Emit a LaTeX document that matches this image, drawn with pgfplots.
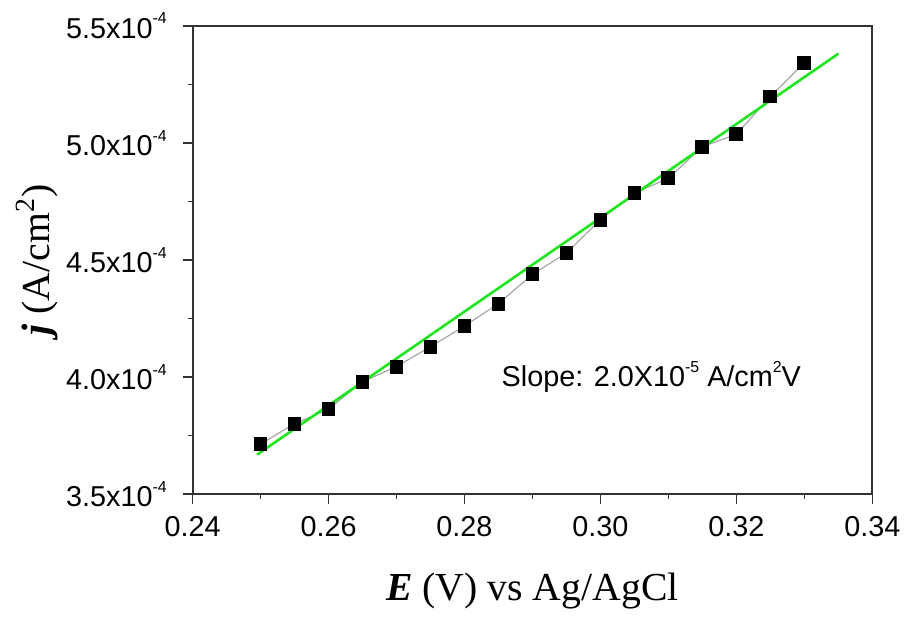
\documentclass[border=0pt]{standalone}
\usepackage{pgfplots}
\pgfplotsset{compat=1.18}
\usepackage{fontspec}
\setmainfont{Liberation Sans}
\newfontfamily\timesfont{Liberation Serif}
\definecolor{fitgreen}{RGB}{30,230,30}
\newcommand{\smallsup}[1]{\raisebox{0.5em}{\fontsize{8}{8}\selectfont #1}}
\begin{document}
\fontsize{14.5}{17}\selectfont
\begin{tikzpicture}
\begin{axis}[
  scale only axis,
  width=342.5pt, height=236pt,
  xmin=0.24, xmax=0.34, ymin=3.5, ymax=5.5,
  xtick={0.24,0.26,0.28,0.30,0.32,0.34},
  ytick={3.5,4.0,4.5,5.0,5.5},
  minor x tick num=1, minor y tick num=1,
  xtick pos=left, ytick pos=left,
  tick align=outside,
  major tick length=5pt, minor tick length=2.5pt,
  axis line style={black!80, line width=1pt},
  every tick/.style={black!80, line width=0.8pt},
  /pgf/number format/assume math mode=true,
  xticklabel style={yshift=-1pt, /pgf/number format/fixed, /pgf/number format/fixed zerofill, /pgf/number format/precision=2},
  yticklabel={\pgfmathprintnumber[fixed,fixed zerofill,precision=1,assume math mode=true]{\tick}x10\smallsup{-4}},
  yticklabel style={xshift=-3pt},
  clip=false,
]
\addplot[gray!70, line width=0.6pt, mark=square*, mark size=3.2pt, mark options={black, fill=black}] coordinates {
(0.250,3.714) (0.255,3.801) (0.260,3.863) (0.265,3.980) (0.270,4.045)
(0.275,4.130) (0.280,4.218) (0.285,4.314) (0.290,4.439) (0.295,4.530)
(0.300,4.672) (0.305,4.786) (0.310,4.849) (0.315,4.984) (0.320,5.037)
(0.325,5.198) (0.330,5.343)
};
\addplot[fitgreen, line width=1.3pt] coordinates {(0.2495,3.669) (0.335,5.381)};
\node[anchor=west] at (axis cs:0.284,4.0) {Slope: 2.0X10\smallsup{-5} A/cm\smallsup{2}V};
\end{axis}
\node[anchor=center] at ([yshift=-48.5pt]current axis.south) {\fontsize{20}{24}\selectfont\timesfont{\bfseries\itshape E} (V) vs Ag/AgCl};
\node[anchor=center, rotate=90] at ([xshift=-78.5pt]current axis.west) {\fontsize{20}{24}\selectfont\timesfont{\bfseries\itshape j} (A/cm\textsuperscript{2})};
\useasboundingbox ([xshift=-97pt,yshift=-61.5pt]current axis.south west) rectangle ([xshift=15.5pt,yshift=13pt]current axis.north east);
\end{tikzpicture}
\end{document}
